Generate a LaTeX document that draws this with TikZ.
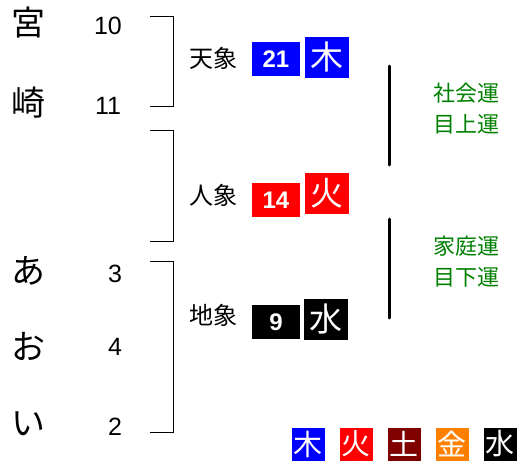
\documentclass[tikz,border=0pt]{standalone}
\usepackage{fontspec}
\usepackage{tikz}
\setmainfont{Liberation Sans}
\newfontfamily\jp{Noto Sans CJK JP}
\definecolor{unGreen}{RGB}{0,128,0}
\definecolor{tsuchi}{RGB}{128,0,0}
\definecolor{kin}{RGB}{255,128,0}

\begin{document}
\begin{tikzpicture}[x=1pt,y=-1pt,
	kana/.style={font=\jp\fontsize{34}{34}\selectfont},
	kaku/.style={font=\fontsize{25}{25}\selectfont},
	zou/.style={font=\jp\fontsize{24}{24}\selectfont},
	score/.style={fill=#1,text=white,minimum width=48,minimum height=34,inner sep=0,font=\bfseries\fontsize{24}{24}\selectfont},
	elem/.style={fill=#1,text=white,minimum width=44,minimum height=41,inner sep=0,font=\jp\fontsize{33}{33}\selectfont},
	luck/.style={text=unGreen,font=\jp\fontsize{22}{22}\selectfont},
	key/.style={fill=#1,text=white,minimum size=33,inner sep=0,font=\jp\fontsize{29}{29}\selectfont}]
	\useasboundingbox (0,0) rectangle (520,461);
	% name and strokes
	\node[kana] (miya) at (28, 23)   {宮};
	\node[kana] (saki) at (28, 103)  {崎};
	\node[kana] (a)    at (28, 271)  {あ};
	\node[kana] (o)    at (28, 346)  {お};
	\node[kana] (i)    at (28, 424)  {い};
	\node[kaku] (k1) at (108, 26)  {10};
	\node[kaku] (k2) at (108, 106) {11};
	\node[kaku] (k3) at (115, 274) {3};
	\node[kaku] (k4) at (115, 347) {4};
	\node[kaku] (k5) at (115, 427) {2};
	% brackets
	\coordinate (t1) at (150, 16);  \coordinate (t1r) at (173, 16);
	\coordinate (b1) at (150, 106); \coordinate (b1r) at (173, 106);
	\coordinate (t2) at (150, 130); \coordinate (t2r) at (173, 130);
	\coordinate (b2) at (150, 241); \coordinate (b2r) at (173, 241);
	\coordinate (t3) at (150, 261); \coordinate (t3r) at (173, 261);
	\coordinate (b3) at (150, 432); \coordinate (b3r) at (173, 432);
	\draw (t1) -- (t1r) -- (b1r) -- (b1);
	\draw (t2) -- (t2r) -- (b2r) -- (b2);
	\draw (t3) -- (t3r) -- (b3r) -- (b3);
	% three parts
	\node[zou] (ten)  at (213, 58)  {天象};
	\node[zou] (jin)  at (213, 195) {人象};
	\node[zou] (chi)  at (213, 315) {地象};
	\node[score=blue]  (s1) at (276, 59)  {21};
	\node[score=red]   (s2) at (276, 200) {14};
	\node[score=black] (s3) at (276, 322) {9};
	\node[elem=blue]   (e1) at (327, 57)  {木};
	\node[elem=red]    (e2) at (327, 193) {火};
	\node[elem=black]  (e3) at (326, 319) {水};
	% luck
	\coordinate (u1) at (389, 66);  \coordinate (d1) at (389, 165);
	\coordinate (u2) at (389, 219); \coordinate (d2) at (389, 318);
	\draw[line width=3pt,line cap=round] (u1) -- (d1);
	\draw[line width=3pt,line cap=round] (u2) -- (d2);
	\node[luck] (sha) at (466, 93)  {社会運};
	\node[luck] (me1) at (466, 124) {目上運};
	\node[luck] (ka)  at (466, 246) {家庭運};
	\node[luck] (me2) at (466, 277) {目下運};
	% legend
	\node[key=blue]   (l1) at (308, 444) {木};
	\node[key=red]    (l2) at (356, 444) {火};
	\node[key=tsuchi] (l3) at (404, 444) {土};
	\node[key=kin]    (l4) at (452, 444) {金};
	\node[key=black]  (l5) at (500, 444) {水};
\end{tikzpicture}
\end{document}
